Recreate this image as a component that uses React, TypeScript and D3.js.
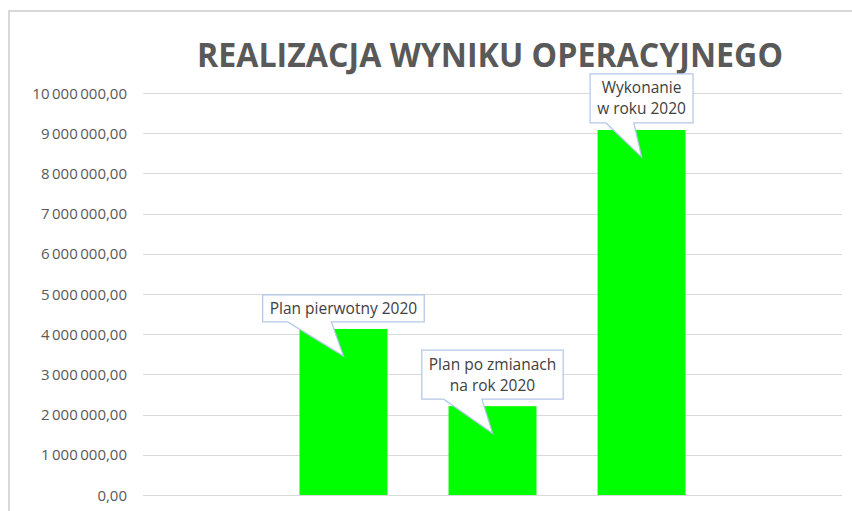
import * as d3 from 'd3';
import React, { useEffect, useRef } from 'react';

// dane
const categories = ['Plan pierwotny 2020', 'Plan po zmianach na rok 2020', 'Wykonanie w roku 2020'];
const labelLines = [['Plan pierwotny 2020'], ['Plan po zmianach', 'na rok 2020'], ['Wykonanie', 'w roku 2020']];
const values = [4130000, 2210000, 9080000];
const yTicks = [0, 1000000, 2000000, 3000000, 4000000, 5000000, 6000000, 7000000, 8000000, 9000000, 10000000];
const title = 'REALIZACJA WYNIKU OPERACYJNEGO';

const W = 852;
const H = 511;
const FONT = '"Open Sans", "DejaVu Sans", sans-serif';

const plFormat = d3
  .formatLocale({ decimal: ',', thousands: '\u2009', grouping: [3], currency: ['', ''] })
  .format(',.2f');

const App = () => {
  const svgRef = useRef<SVGSVGElement>(null);

  useEffect(() => {
    const svg = d3.select(svgRef.current);
    svg.selectAll('*').remove();

    const xScale = d3
      .scaleBand()
      .domain(categories)
      .range([143, 842])
      .paddingInner(0.41)
      .paddingOuter(1.05);

    const yScale = d3.scaleLinear().domain([0, 10000000]).range([495, 93]);

    // ramka wykresu
    svg
      .append('path')
      .attr('d', `M9,${H + 5} V11 H${W + 5}`)
      .attr('fill', 'none')
      .attr('stroke', '#d9d9d9')
      .attr('stroke-width', 2);

    // tytul
    svg
      .append('text')
      .attr('x', 490)
      .attr('y', 67)
      .attr('text-anchor', 'middle')
      .attr('font-family', FONT)
      .attr('font-weight', 'bold')
      .attr('font-size', 34)
      .attr('fill', '#595959')
      .attr('textLength', 586)
      .attr('lengthAdjust', 'spacingAndGlyphs')
      .text(title);

    // siatka
    svg
      .append('g')
      .selectAll('line')
      .data(yTicks)
      .enter()
      .append('line')
      .attr('x1', 143)
      .attr('x2', 842)
      .attr('y1', (d) => Math.round(yScale(d)) + 0.5)
      .attr('y2', (d) => Math.round(yScale(d)) + 0.5)
      .attr('stroke', '#d9d9d9')
      .attr('stroke-width', 1);

    // etykiety osi Y
    svg
      .append('g')
      .selectAll('text')
      .data(yTicks)
      .enter()
      .append('text')
      .attr('x', 127)
      .attr('y', (d) => yScale(d) + 5.5)
      .attr('text-anchor', 'end')
      .attr('font-family', FONT)
      .attr('font-size', 15)
      .attr('fill', '#595959')
      .text((d) => plFormat(d));

    // slupki
    svg
      .append('g')
      .selectAll('rect')
      .data(values)
      .enter()
      .append('rect')
      .attr('x', (d, i) => xScale(categories[i]) as number)
      .attr('y', (d) => yScale(d))
      .attr('width', xScale.bandwidth())
      .attr('height', (d) => yScale(0) - yScale(d))
      .attr('fill', '#00ff00');

    // objasnienia (callouty)
    const callouts = svg.append('g');
    values.forEach((v, i) => {
      const cx = (xScale(categories[i]) as number) + xScale.bandwidth() / 2;
      const top = yScale(v);
      const lines = labelLines[i];
      const g = callouts.append('g');
      const path = g.append('path');
      const boxH = lines.length === 1 ? 27 : 49;
      const bottom = top - 7;
      const boxTop = bottom - boxH;
      const txt = g
        .append('text')
        .attr('text-anchor', 'middle')
        .attr('font-family', FONT)
        .attr('font-size', 15.5)
        .attr('fill', '#404040');
      lines.forEach((l, j) => {
        txt
          .append('tspan')
          .attr('x', cx)
          .attr('y', boxTop + 19.5 + j * 21)
          .text(l);
      });
      const tw = (txt.node() as SVGTextElement).getBBox().width;
      const w = tw + 14;
      const left = cx - w / 2;
      const right = cx + w / 2;
      const b1 = cx - 0.345 * w;
      const b2 = cx - 0.075 * w;
      path
        .attr(
          'd',
          `M${left},${boxTop} H${right} V${bottom} H${b2} L${cx},${top + 27} L${b1},${bottom} H${left} Z`,
        )
        .attr('fill', '#ffffff')
        .attr('stroke', '#b4c7e7')
        .attr('stroke-width', 1.25);
    });
  }, []);

  return (
    <svg
      ref={svgRef}
      width={W}
      height={H}
      style={{ position: 'absolute', left: 0, top: 0, background: '#ffffff' }}
    ></svg>
  );
};

export default App;
